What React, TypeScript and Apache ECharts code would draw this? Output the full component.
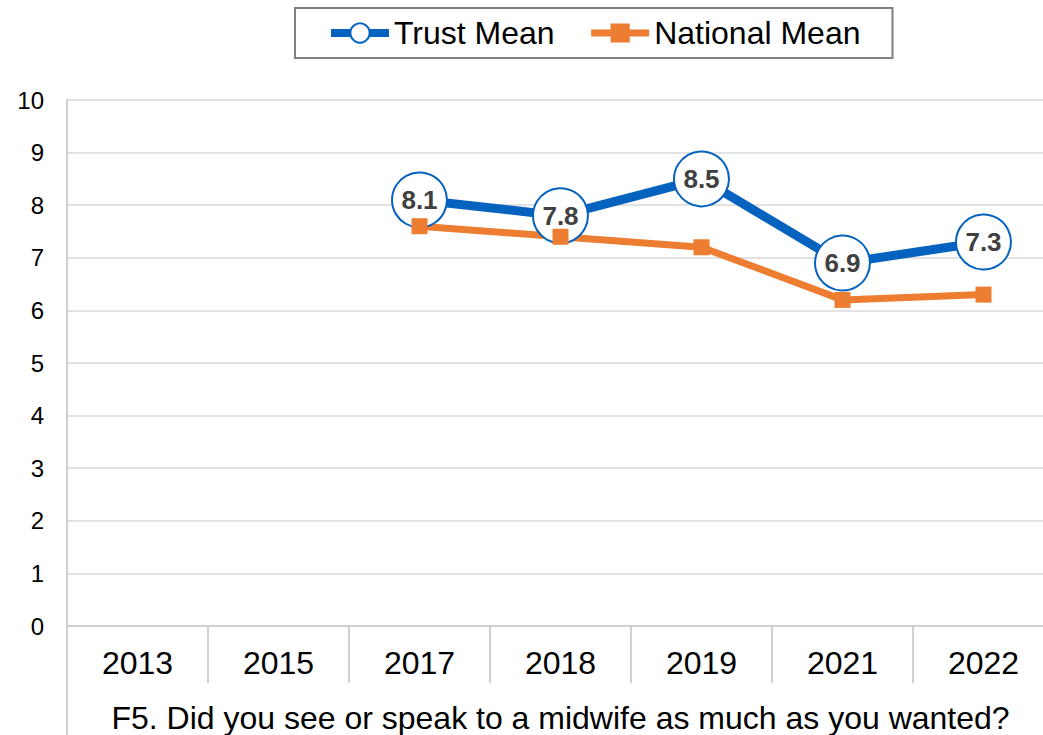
import React, { useEffect, useRef } from "react";
import * as echarts from "echarts";

const categories = ["2013", "2015", "2017", "2018", "2019", "2021", "2022"];
const trustMean: (number | null)[] = [null, null, 8.1, 7.8, 8.5, 6.9, 7.3];
const nationalMean: (number | null)[] = [null, null, 7.6, 7.4, 7.2, 6.2, 6.3];
const axisTitle = "F5. Did you see or speak to a midwife as much as you wanted?";

const FONT = "'Liberation Sans', Arial, sans-serif";
const BLUE = "#0562BF";
const ORANGE = "#ED7D31";

export default function App() {
  const ref = useRef<HTMLDivElement>(null);
  useEffect(() => {
    if (!ref.current) return;
    const chart = echarts.init(ref.current, undefined, { renderer: "svg" });
    chart.setOption({
      animation: false,
      backgroundColor: "#ffffff",
      textStyle: { fontFamily: FONT },
      legend: {
        left: 295,
        top: 8,
        padding: [9, 32],
        itemGap: 33,
        itemWidth: 58,
        itemHeight: 24,
        borderColor: "#7f7f7f",
        borderWidth: 2,
        textStyle: { fontSize: 32, color: "#000", fontFamily: FONT },
        data: [
          {
            name: "Trust Mean",
            lineStyle: { width: 8, color: BLUE },
            itemStyle: { color: "#ffffff", borderColor: BLUE, borderWidth: 2 },
          },
          {
            name: "National Mean",
            lineStyle: { width: 7, color: ORANGE },
            itemStyle: { color: ORANGE },
          },
        ],
      },
      grid: { left: 67, width: 987, top: 100, height: 526, outerBoundsMode: "none", containLabel: false },
      xAxis: {
        type: "category",
        data: categories,
        boundaryGap: true,
        axisLine: { lineStyle: { color: "#d0d0d0", width: 2 } },
        axisTick: { show: true, length: 57, interval: 0, lineStyle: { color: "#d0d0d0", width: 2 } },
        axisLabel: { fontSize: 32, color: "#000", margin: 21, lineHeight: 32, fontFamily: FONT, interval: 0 },
        name: axisTitle,
        nameLocation: "middle",
        nameGap: 76,
        nameTextStyle: { fontSize: 32, color: "#000", lineHeight: 32, fontFamily: FONT },
      },
      yAxis: {
        type: "value",
        min: 0,
        max: 10,
        interval: 1,
        axisLine: { show: true, lineStyle: { color: "#c0c0c0", width: 1.5 } },
        axisTick: { show: false },
        splitLine: { lineStyle: { color: "#d9d9d9", width: 1.5 } },
        axisLabel: { fontSize: 24, color: "#000", margin: 23, fontFamily: FONT },
      },
      graphic: [
        {
          type: "line",
          shape: { x1: 67, y1: 626, x2: 67, y2: 735 },
          style: { stroke: "#d0d0d0", lineWidth: 2 },
        },
      ],
      series: [
        {
          name: "Trust Mean",
          type: "line",
          data: trustMean,
          symbol: "circle",
          symbolSize: 55,
          lineStyle: { color: BLUE, width: 9 },
          itemStyle: { color: "#ffffff", borderColor: BLUE, borderWidth: 2 },
          label: {
            show: true,
            position: "inside",
            fontSize: 26,
            fontWeight: "bold",
            color: "#404040",
            fontFamily: FONT,
          },
          connectNulls: false,
        },
        {
          name: "National Mean",
          type: "line",
          data: nationalMean,
          symbol: "rect",
          symbolSize: 16,
          lineStyle: { color: ORANGE, width: 7 },
          itemStyle: { color: ORANGE },
          label: { show: false },
        },
      ],
    });
    return () => chart.dispose();
  }, []);
  return (
    <div style={{ position: "absolute", left: 0, top: 0, width: 1043, height: 735, overflow: "hidden" }}>
      <div ref={ref} style={{ width: 1070, height: 735 }} />
    </div>
  );
}
